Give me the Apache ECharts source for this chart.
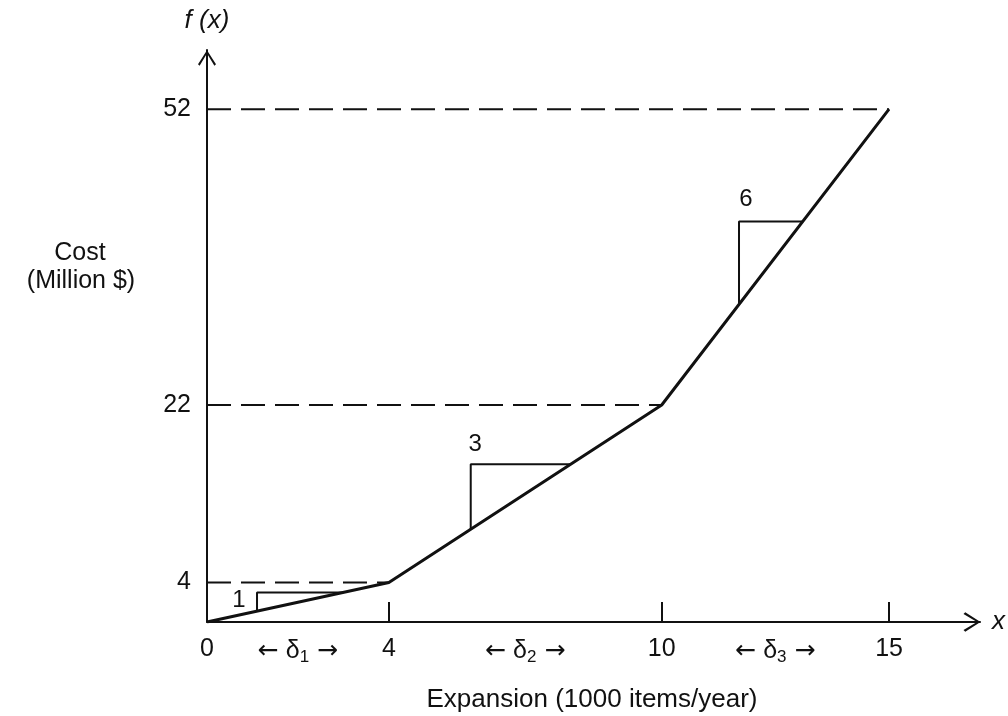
<!DOCTYPE html>
<html>
<head>
<meta charset="utf-8">
<script src="https://cdn.jsdelivr.net/npm/echarts@6/dist/echarts.min.js"></script>
<style>
  html, body { margin: 0; padding: 0; background: #ffffff; }
  #chart { width: 1008px; height: 716px; }
</style>
</head>
<body>
<div id="chart"></div>
<script>
// ---- data ----
const xTickLabels = [0, 4, 10, 15];
const xTickMarks = [4, 10, 15];
const yTickLabels = [4, 22, 52];
const breakX = [0, 4, 10, 15];
const costF = [0, 4, 22, 52];
const slopeNames = ['1', '3', '6'];
const slopeTri1 = [[1.1, 1.1], [1.1, 3], [3, 3]];
const slopeTri2 = [[5.8, 9.4], [5.8, 16], [8, 16]];
const slopeTri3 = [[11.7, 32.2], [11.7, 40.6], [13.1, 40.6]];
const slopeLabelPos = [[0.7, 2.2], [5.9, 18], [11.85, 42.9]];
const deltaX = [2, 7, 12.5];
const deltaNames = ['1', '2', '3'];

const FONT = '"Liberation Sans", Arial, Helvetica, sans-serif';
const ARROWFONT = '"DejaVu Sans", sans-serif';
const INK = '#111111';
const chevron = 'path://M9,0 L18,14 L16.4,15.6 L9,3.2 L1.6,15.6 L0,14 Z';

const mainLine = breakX.map((x, i) => [x, costF[i]]);
const guides = [1, 2, 3].map(i => ({
  type: 'line', silent: true, symbol: 'none',
  data: [[0, costF[i]], [breakX[i], costF[i]]],
  lineStyle: { color: INK, width: 2, type: [24, 10] }, z: 2
}));
const tris = [slopeTri1, slopeTri2, slopeTri3].map(t => ({
  type: 'line', silent: true, symbol: 'none', data: t,
  lineStyle: { color: INK, width: 2 }, z: 3
}));

const chart = echarts.init(document.getElementById('chart'), null, { renderer: 'canvas' });
chart.setOption({
  animation: false,
  backgroundColor: '#ffffff',
  textStyle: { fontFamily: FONT, color: INK },
  grid: { left: 207, right: 28, top: 50, bottom: 94, containLabel: false },
  xAxis: {
    type: 'value', min: 0, max: 17,
    name: 'x', nameLocation: 'end', nameGap: 12,
    nameTextStyle: { fontSize: 26, fontStyle: 'italic', color: INK, fontFamily: FONT },
    axisLine: { show: true, onZero: false, lineStyle: { color: INK, width: 2 },
      symbol: ['none', chevron], symbolSize: [20, 17], symbolOffset: [0, -8] },
    axisTick: { show: true, inside: true, length: 20, customValues: xTickMarks,
      lineStyle: { color: INK, width: 2 } },
    axisLabel: { show: true, customValues: xTickLabels, fontSize: 25, color: INK,
      fontFamily: FONT, margin: 15 },
    splitLine: { show: false }
  },
  yAxis: {
    type: 'value', min: 0, max: 58,
    name: 'f (x)', nameLocation: 'end', nameGap: 16,
    nameTextStyle: { fontSize: 26, fontStyle: 'italic', color: INK, fontFamily: FONT },
    axisLine: { show: true, onZero: false, lineStyle: { color: INK, width: 2 },
      symbol: ['none', chevron], symbolSize: [18, 16], symbolOffset: [0, -8] },
    axisTick: { show: false },
    axisLabel: { show: true, customValues: yTickLabels, fontSize: 25, color: INK,
      fontFamily: FONT, margin: 16 },
    splitLine: { show: false }
  },
  graphic: [
    { type: 'text', x: 592, y: 700, silent: true,
      style: { text: 'Expansion (1000 items/year)', fontSize: 26, fontFamily: FONT, fill: INK,
        textAlign: 'center', textVerticalAlign: 'middle' } },
    { type: 'text', x: 80, y: 253, silent: true,
      style: { text: 'Cost', fontSize: 25, fontFamily: FONT, fill: INK,
        textAlign: 'center', textVerticalAlign: 'middle' } },
    { type: 'text', x: 81, y: 281, silent: true,
      style: { text: '(Million $)', fontSize: 25, fontFamily: FONT, fill: INK,
        textAlign: 'center', textVerticalAlign: 'middle' } }
  ],
  series: [
    ...guides,
    ...tris,
    {
      type: 'line', silent: true, symbol: 'none', data: mainLine,
      lineStyle: { color: INK, width: 3 }, z: 5
    },
    {
      type: 'scatter', silent: true, symbolSize: 0, itemStyle: { opacity: 1 },
      data: slopeLabelPos.map((p, i) => ({ value: p, name: slopeNames[i] })),
      label: { show: true, position: 'inside', formatter: '{b}', fontSize: 24,
        color: INK, fontFamily: FONT }
    },
    {
      type: 'scatter', silent: true, symbolSize: 0, itemStyle: { opacity: 1 },
      data: deltaX.map((x, i) => ({ value: [x, 0], name: deltaNames[i] })),
      label: {
        show: true, position: 'bottom', distance: 14,
        formatter: p => '{r|\u2190}{a| \u03b4}{s|' + p.name + '}{r| \u2192}',
        rich: {
          r: { fontSize: 25, color: INK, fontFamily: ARROWFONT, lineHeight: 30 },
          a: { fontSize: 25, color: INK, fontFamily: FONT, lineHeight: 30 },
          s: { fontSize: 17, color: INK, fontFamily: FONT, lineHeight: 30, padding: [12, 0, 0, 0] }
        }
      }
    }
  ]
});
</script>
</body>
</html>
